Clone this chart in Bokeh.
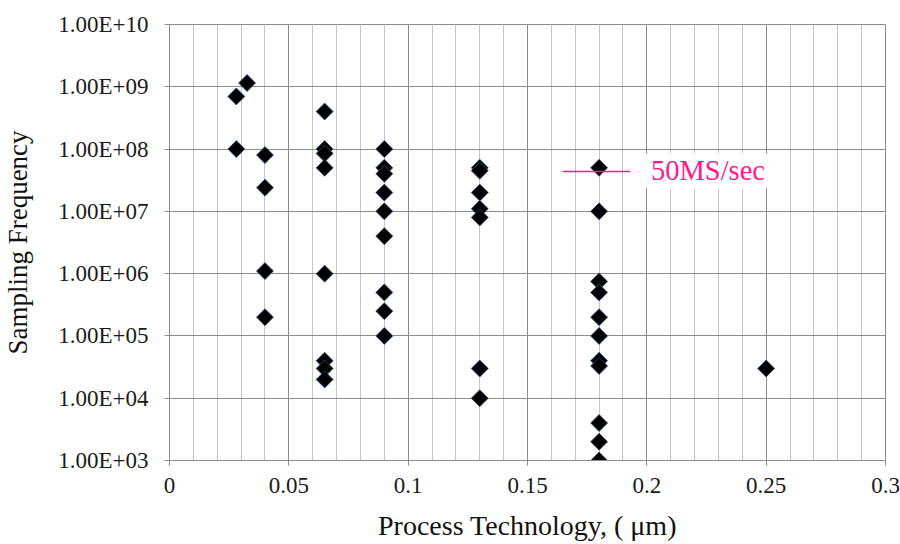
import math
from bokeh.plotting import figure
from bokeh.models import (ColumnDataSource, FixedTicker, CustomJSTickFormatter,
                          Range1d, Legend, LegendItem, BoxAnnotation)
from bokeh.embed import file_html
from bokeh.resources import INLINE

# ---- data ----
process_um = [0.028, 0.028,
              0.0325,
              0.040, 0.040, 0.040, 0.040,
              0.065, 0.065, 0.065, 0.065, 0.065, 0.065, 0.065, 0.065,
              0.090, 0.090, 0.090, 0.090, 0.090, 0.090, 0.090, 0.090, 0.090,
              0.130, 0.130, 0.130, 0.130, 0.130, 0.130, 0.130,
              0.180, 0.180, 0.180, 0.180, 0.180, 0.180, 0.180, 0.180, 0.180, 0.180, 0.180,
              0.250]
sampling_hz = [7e8, 1e8,
               1.15e9,
               8e7, 2.4e7, 1.1e6, 2e5,
               4e8, 1e8, 8.5e7, 5e7, 1e6, 4e4, 3e4, 2e4,
               1e8, 5e7, 4e7, 2e7, 1e7, 4e6, 5e5, 2.5e5, 1e5,
               5e7, 4.5e7, 2e7, 1.1e7, 8e6, 3e4, 1e4,
               5e7, 1e7, 7.5e5, 5e5, 2e5, 1e5, 4e4, 3.3e4, 4e3, 2e3, 1e3,
               3e4]

x_ticks = [0, 0.05, 0.1, 0.15, 0.2, 0.25, 0.3]
x_tick_labels = ["0", "0.05", "0.1", "0.15", "0.2", "0.25", "0.3"]
x_minor = [i / 100 for i in range(31)]
y_ticks = [1e3, 1e4, 1e5, 1e6, 1e7, 1e8, 1e9, 1e10]
y_tick_labels = ["1.00E+03", "1.00E+04", "1.00E+05", "1.00E+06",
                 "1.00E+07", "1.00E+08", "1.00E+09", "1.00E+10"]
legend_label = "50MS/sec"
legend_level_hz = 5e7

SERIF = "Liberation Serif"
GRID_DARK = "#8c8c8c"
GRID_LIGHT = "#c4c4c4"
PINK = "#ff1a8c"

p = figure(width=900, height=544, output_backend="svg", toolbar_location=None,
           y_axis_type="log",
           x_range=Range1d(0, 0.3), y_range=Range1d(1e3, 1e10),
           min_border_left=168, min_border_right=15,
           min_border_top=24, min_border_bottom=84)
p.background_fill_color = "white"
p.border_fill_color = "white"
p.outline_line_color = GRID_DARK
p.outline_line_width = 1

# axes
p.xaxis.ticker = FixedTicker(ticks=x_ticks, minor_ticks=x_minor)
p.yaxis.ticker = FixedTicker(ticks=y_ticks, minor_ticks=[])
fmt_code = """
let best = -1, bd = 1e9;
for (let i = 0; i < tvals.length; i++) {
  const d = USELOG ? Math.abs(Math.log10(tvals[i]) - Math.log10(tick)) : Math.abs(tvals[i] - tick);
  if (d < bd) { bd = d; best = i; }
}
return (best >= 0 && bd < 1e-6) ? tlabels[best] : '';
"""
p.xaxis.formatter = CustomJSTickFormatter(args=dict(tvals=x_ticks, tlabels=x_tick_labels),
                                          code=fmt_code.replace("USELOG", "false"))
p.yaxis.formatter = CustomJSTickFormatter(args=dict(tvals=y_ticks, tlabels=y_tick_labels),
                                          code=fmt_code.replace("USELOG", "true"))

for ax in (p.xaxis, p.yaxis):
    ax.axis_line_color = GRID_DARK
    ax.major_tick_line_color = GRID_DARK
    ax.major_tick_out = 5
    ax.major_tick_in = 0
    ax.minor_tick_line_color = None
    ax.major_label_text_font = SERIF
    ax.major_label_text_font_size = "23px"
    ax.major_label_text_color = "#1a1a1a"
    ax.axis_label_text_font = SERIF
    ax.axis_label_text_font_style = "normal"
    ax.axis_label_text_color = "#111111"

p.xaxis.axis_label = "Process Technology, ( \u03bcm)"
p.xaxis.axis_label_text_font_size = "28px"
p.xaxis.major_label_standoff = 12
p.xaxis.axis_label_standoff = 14

p.yaxis.axis_label = "Sampling Frequency"
p.yaxis.axis_label_text_font_size = "27px"
p.yaxis.major_label_standoff = 16
p.yaxis.axis_label_standoff = 22

# grids
p.xgrid.ticker = FixedTicker(ticks=x_ticks, minor_ticks=x_minor)
p.xgrid.grid_line_color = GRID_DARK
p.xgrid.minor_grid_line_color = GRID_LIGHT
p.xgrid.grid_line_width = 1
p.ygrid.ticker = FixedTicker(ticks=y_ticks, minor_ticks=[])
p.ygrid.grid_line_color = GRID_DARK
p.ygrid.minor_grid_line_color = None

# points
src = ColumnDataSource(dict(x=process_um, y=sampling_hz))
p.scatter("x", "y", source=src, marker="square", size=12, angle=math.pi / 4,
          fill_color="black", line_color="#2f4f7a", line_width=1, line_alpha=0.8)

# white patch behind the legend text (as in the reference)
label_bg = BoxAnnotation(left=0.1995, right=0.2515, bottom=2.4e7, top=8.5e7,
                         fill_color="white", fill_alpha=1.0, line_color=None)
p.add_layout(label_bg)

# legend line (50 MS/s reference)
ref = ColumnDataSource(dict(x=[x_ticks[0], x_ticks[-1]], y=[legend_level_hz, legend_level_hz]))
ref_r = p.line("x", "y", source=ref, line_color=PINK, line_width=1.6, visible=False)

legend = Legend(items=[LegendItem(label=legend_label, renderers=[ref_r])],
                location=(393, 273), orientation="vertical",
                glyph_width=68, glyph_height=30, label_height=30,
                label_standoff=21, padding=3, margin=0, spacing=0,
                border_line_color=None, background_fill_alpha=0.0,
                label_text_font=SERIF, label_text_font_size="28.5px",
                label_text_color=PINK, label_text_baseline="middle")
p.add_layout(legend)

open("out.html", "w").write(file_html(p, INLINE))
